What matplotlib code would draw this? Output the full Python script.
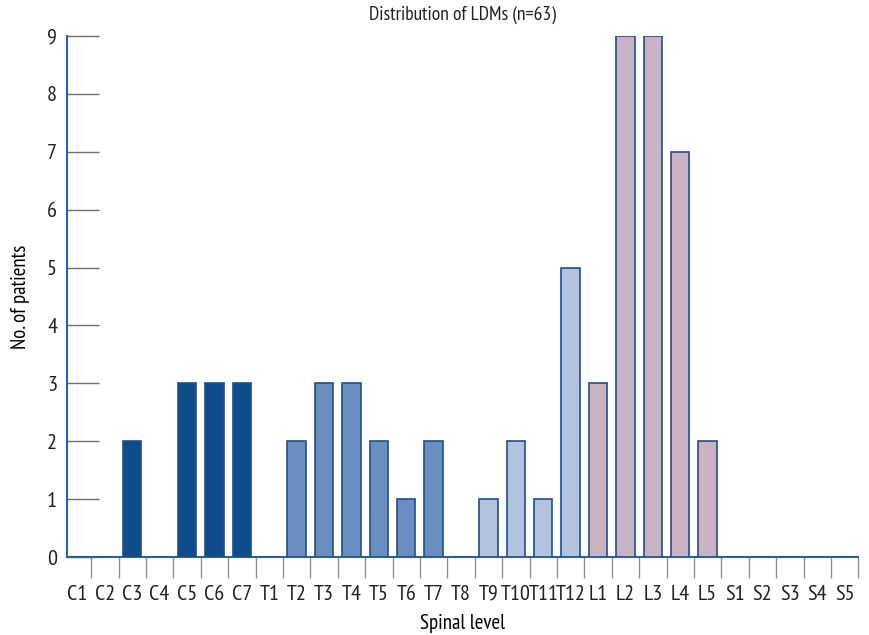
import numpy as np
from matplotlib import pyplot as plt

levels = ["C1", "C2", "C3", "C4", "C5", "C6", "C7",
          "T1", "T2", "T3", "T4", "T5", "T6", "T7", "T8", "T9", "T10", "T11", "T12",
          "L1", "L2", "L3", "L4", "L5",
          "S1", "S2", "S3", "S4", "S5"]
patients = [0, 0, 2, 0, 3, 3, 3,
            0, 2, 3, 3, 2, 1, 2, 0, 1, 2, 1, 5,
            3, 9, 9, 7, 2,
            0, 0, 0, 0, 0]
groups = ["C"] * 7 + ["T_upper"] * 8 + ["T_lower"] * 4 + ["L"] * 5 + ["S"] * 5

group_colors = {"C": "#0f4c8c", "T_upper": "#6a8ebf", "T_lower": "#b3c2de",
                "L": "#c9b2c4", "S": "#c9b2c4"}

plt.rcParams['font.family'] = ["PT Sans Narrow", "Roboto Condensed", "DejaVu Sans"]
plt.rcParams['text.color'] = "#222222"

fig = plt.figure(figsize=(8.7, 6.35), dpi=100)
ax = fig.add_axes([0.0767, 0.1228, 0.9099, 0.8205])

x = np.arange(len(levels))
colors = [group_colors[g] for g in groups]
ax.bar(x, patients, width=0.67, color=colors, edgecolor="#1f4f8a", linewidth=1.2, zorder=3)

ax.set_xlim(-0.39, len(levels) - 0.5)
ax.set_ylim(0, 9)

ax.spines["top"].set_visible(False)
ax.spines["right"].set_visible(False)
ax.spines["left"].set_color("#2a64a0")
ax.spines["bottom"].set_color("#2a64a0")
ax.spines["left"].set_linewidth(1.5)
ax.spines["bottom"].set_linewidth(1.5)

ax.set_yticks(range(0, 10))
ax.tick_params(axis="y", direction="in", length=23, width=1, color="#707070",
               labelsize=16, pad=7, labelcolor="#222222")

ax.set_xticks(x)
ax.set_xticklabels(levels)
ax.set_xticks(np.arange(0.5, len(levels), 1), minor=True)
ax.tick_params(axis="x", which="major", length=0, labelsize=16, pad=20, labelcolor="#222222")
ax.tick_params(axis="x", which="minor", direction="out", length=15, width=1,
               color="#909090")

ax.set_title("Distribution of LDMs (n=63)", fontsize=14, pad=12)
ax.set_xlabel("Spinal level", fontsize=15, labelpad=7)
ax.set_ylabel("No. of patients", fontsize=15, labelpad=12)

fig.savefig("out.png", dpi=100)
